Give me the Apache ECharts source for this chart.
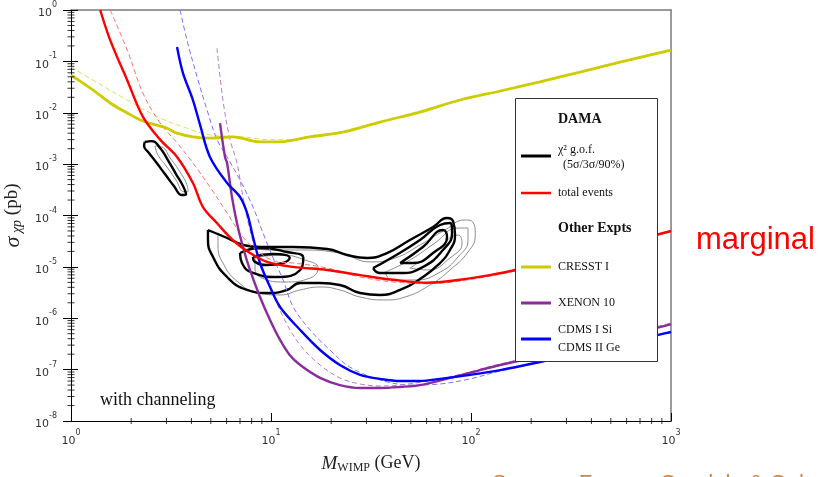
<!DOCTYPE html>
<html>
<head>
<meta charset="utf-8">
<script src="https://cdn.jsdelivr.net/npm/echarts@6/dist/echarts.min.js"></script>
<style>
  html, body { margin: 0; padding: 0; background: #fff; }
  #chart { width: 821px; height: 477px; }
</style>
</head>
<body>
<div id="chart"></div>
<script>
// WIMP mass (GeV) vs. spin-independent cross section sigma_xp (pb)

// axis ranges and minor tick steps
const massRange = [1, 1000];
const sigmaRange = [1e-8, 1];
const minorSteps = [2, 3, 4, 5, 6, 7, 8, 9];
const massDecadeStarts = [1, 10, 100];
const sigmaDecadeStarts = [1e-8, 1e-7, 1e-6, 1e-5, 1e-4, 1e-3, 1e-2, 1e-1];

// CRESST I limit (solid) and alternative (dashed)
const cresst = [[1,0.054],[1.29,0.0277],[1.57,0.0155],[1.91,0.0099],[2.29,0.0069],[2.79,0.0055],[3.02,0.0050],[3.39,0.0040],[4.07,0.0034],[4.95,0.0032],[6.46,0.0034],[8.81,0.0027],[10.7,0.0027],[15.7,0.0034],[22.9,0.0042],[35.1,0.0066],[55.6,0.0103],[88.1,0.0177],[140,0.0265],[221,0.040],[351,0.062],[556,0.097],[1000,0.166]];
const cresstDashed = [[1,0.078],[1.29,0.043],[1.91,0.0177],[2.79,0.0079],[3.80,0.0050],[4.95,0.0037],[7.24,0.0034],[9.55,0.0030],[12.4,0.0030],[15.7,0.0035],[22.9,0.0043],[35.1,0.0067],[88.1,0.0172],[221,0.039],[556,0.094],[1000,0.16]];

// DAMA total events
const totalEvents = [[1.40,1.0],[1.57,0.26],[1.91,0.043],[2.29,0.0083],[2.79,0.0030],[3.39,0.00138],[4.07,4.3e-4],[4.57,1.46e-4],[5.37,7.1e-5],[6.46,3.3e-5],[7.85,1.86e-5],[9.55,1.25e-5],[12.9,1.0e-5],[19.1,8.7e-6],[27.9,6.9e-6],[40.7,5.6e-6],[60.3,4.9e-6],[88.1,5.6e-6],[124,6.9e-6],[166,8.7e-6],[279,1.49e-5],[442,2.33e-5],[700,3.5e-5],[1000,5.0e-5]];
const totalEventsDashed = [[1.57,1.0],[1.91,0.166],[2.29,0.024],[2.79,0.0063],[3.39,0.0026],[4.07,0.00105],[4.95,3.6e-4],[6.03,1.12e-4],[7.24,3.8e-5],[8.81,1.86e-5],[10.7,1.25e-5],[12.9,1.19e-5],[19.1,9.5e-6],[27.9,6.35e-6],[40.7,5.1e-6],[60.3,4.7e-6],[88.1,5.3e-6],[166,8.3e-6],[442,2.2e-5],[1000,4.8e-5]];

// CDMS I Si + CDMS II Ge
const cdms = [[3.39,0.19],[3.63,0.059],[4.07,0.0177],[4.42,0.0058],[4.95,0.00138],[6.03,4.3e-4],[7.0,2.29e-4],[7.59,1.12e-4],[8.13,3.8e-5],[8.81,1.19e-5],[9.89,4.06e-6],[11.1,1.66e-6],[14.0,5.9e-7],[17.6,2.41e-7],[22.1,1.23e-7],[27.9,7.9e-8],[35.1,6.6e-8],[44.2,6.0e-8],[55.6,6.0e-8],[70.0,6.6e-8],[98.9,7.9e-8],[140,9.8e-8],[221,1.41e-7],[351,2.1e-7],[556,3.2e-7],[851,4.7e-7],[1000,5.4e-7]];
const cdmsDashed = [[3.51,1.0],[3.80,0.26],[4.27,0.050],[4.79,0.0113],[5.37,0.0030],[6.03,0.00138],[7.0,4.9e-4],[8.13,1.46e-4],[9.12,4.56e-5],[10.2,1.56e-5],[11.5,5.56e-6],[12.9,1.66e-6],[15.7,5.9e-7],[19.7,2.41e-7],[24.8,1.12e-7],[35.1,6.3e-8],[49.5,5.0e-8],[70.0,5.25e-8],[98.9,6.6e-8],[140,9.4e-8],[351,2.05e-7],[1000,5.3e-7]];

// XENON 10
const xenon = [[5.56,0.0063],[5.89,0.00138],[6.03,0.00105],[6.38,2.29e-4],[6.76,7.1e-5],[7.24,2.44e-5],[7.85,8.7e-6],[8.81,2.59e-6],[9.89,9.25e-7],[11.1,3.78e-7],[12.4,1.93e-7],[14.0,1.23e-7],[17.6,6.9e-8],[22.1,5.0e-8],[27.9,4.4e-8],[35.1,4.4e-8],[44.2,4.6e-8],[55.6,5.0e-8],[78.5,6.9e-8],[111,9.8e-8],[140,1.23e-7],[221,1.84e-7],[351,2.75e-7],[556,4.3e-7],[851,6.5e-7],[1000,7.7e-7]];
const xenonDashed = [[5.37,0.18],[5.75,0.0177],[6.24,0.0030],[6.76,0.00105],[7.24,2.29e-4],[7.85,5.2e-5],[8.81,1.19e-5],[9.89,4.06e-6],[11.7,9.25e-7],[14.0,3.0e-7],[17.6,1.23e-7],[22.1,6.9e-8],[27.9,5.25e-8],[35.1,4.8e-8],[44.2,5.0e-8],[78.5,7.2e-8],[140,1.29e-7],[351,2.9e-7],[1000,8.1e-7]];

// DAMA chi^2 goodness-of-fit regions (closed contours)
const damaLowIsland = [[2.34,0.0027],[2.54,0.0028],[2.79,0.00206],[3.05,0.0012],[3.35,6.4e-4],[3.63,3.75e-4],[3.76,2.6e-4],[3.59,2.5e-4],[3.27,3.75e-4],[2.95,6.4e-4],[2.66,1.1e-3],[2.43,1.72e-3],[2.32,2.25e-3],[2.34,0.0027]];
const damaOuter = [[4.84,5.22e-5],[6.03,3.65e-5],[7.24,2.67e-5],[8.81,2.44e-5],[12.9,2.44e-5],[19.1,2.23e-5],[24.0,1.70e-5],[30.2,1.49e-5],[38.0,1.86e-5],[49.5,3.34e-5],[64.6,5.97e-5],[75.9,8.94e-5],[81.3,7.8e-5],[83.2,4.17e-5],[78.5,2.13e-5],[68.4,1.09e-5],[55.6,5.81e-6],[44.2,3.55e-6],[35.1,2.84e-6],[27.9,3.10e-6],[22.1,4.44e-6],[17.6,4.86e-6],[14.0,4.86e-6],[12.0,3.55e-6],[9.55,3.10e-6],[7.59,3.55e-6],[6.03,6.35e-6],[5.13,1.56e-5],[4.84,3.34e-5],[4.84,5.22e-5]];
const damaMidLeft = [[7.0,1.86e-5],[8.81,2.33e-5],[12.0,1.95e-5],[14.5,1.49e-5],[14.0,8.7e-6],[10.7,6.35e-6],[8.13,7.6e-6],[7.16,1.19e-5],[7.0,1.86e-5]];
const damaInnerLeft = [[8.13,1.56e-5],[10.2,1.78e-5],[12.4,1.49e-5],[11.5,1.19e-5],[9.55,1.09e-5],[8.32,1.25e-5],[8.13,1.56e-5]];
const damaMidRight = [[32.4,9.5e-6],[40.7,1.56e-5],[55.6,3.34e-5],[70.0,6.53e-5],[78.5,7.14e-5],[80.4,4.56e-5],[72.4,2.13e-5],[57.5,9.95e-6],[44.2,7.6e-6],[35.1,7.6e-6],[32.4,9.5e-6]];
const damaInnerRight = [[44.2,1.19e-5],[57.5,2.44e-5],[72.4,5.22e-5],[75.9,3.82e-5],[64.6,1.86e-5],[51.3,1.19e-5],[44.2,1.19e-5]];

// companion DAMA regions (thin grey)
const damaAltLowIsland = [[2.63,2.25e-3],[2.85,2.15e-3],[3.13,1.32e-3],[3.51,7.0e-4],[3.80,3.93e-4],[3.85,2.9e-4],[3.67,2.9e-4],[3.35,4.9e-4],[2.99,9.2e-4],[2.72,1.51e-3],[2.63,2.25e-3]];
const damaAltOuter = [[5.43,4.56e-5],[7.0,2.92e-5],[9.89,2.13e-5],[14.0,2.13e-5],[22.1,1.86e-5],[31.3,1.25e-5],[41.7,1.49e-5],[55.6,2.67e-5],[74.1,5.22e-5],[93.3,8.17e-5],[102,7.5e-5],[105,4.17e-5],[96.6,1.95e-5],[78.5,8.7e-6],[62.4,4.44e-6],[46.8,2.59e-6],[37.2,2.27e-6],[27.9,2.59e-6],[22.1,3.55e-6],[17.6,4.06e-6],[14.0,3.55e-6],[11.1,2.84e-6],[8.61,3.10e-6],[6.84,5.08e-6],[5.82,1.09e-5],[5.43,2.67e-5],[5.43,4.56e-5]];
const damaAltMidLeft = [[8.32,1.49e-5],[11.1,1.70e-5],[14.8,1.36e-5],[17.2,9.5e-6],[15.7,6.07e-6],[11.7,5.08e-6],[9.02,6.07e-6],[8.32,9.5e-6],[8.32,1.49e-5]];
const damaAltMidRight = [[37.2,7.94e-6],[49.5,1.36e-5],[66.1,2.92e-5],[86.1,5.7e-5],[96.6,5.7e-5],[96.6,3.34e-5],[86.1,1.56e-5],[70.0,7.9e-6],[52.5,5.56e-6],[40.3,5.56e-6],[37.2,7.94e-6]];
const damaAltInnerRight = [[49.5,9.5e-6],[66.1,1.95e-5],[86.1,4.17e-5],[90.2,2.92e-5],[78.5,1.49e-5],[61.0,8.7e-6],[49.5,9.5e-6]];

const chart = echarts.init(document.getElementById('chart'), null, { renderer: 'canvas' });

const SERIF = '"Liberation Serif", "Times New Roman", serif';
const SANS = '"DejaVu Sans", Verdana, sans-serif';

function powerLabel(v) {
  const e = Math.round(Math.log10(v));
  return '{b|10}{s|' + e + '}';
}
const powerRich = {
  b: { fontFamily: SANS, fontSize: 11, color: '#333', lineHeight: 18, verticalAlign: 'bottom' },
  s: { fontFamily: SANS, fontSize: 8, color: '#333', lineHeight: 8, verticalAlign: 'top' }
};

function curve(data, color, width, dashed, z) {
  return {
    type: 'line', data: data, xAxisIndex: 0, yAxisIndex: 0,
    showSymbol: false, symbol: 'none', smooth: 0.35, silent: true, z: z,
    lineStyle: { color: color, width: width, type: dashed ? [5, 3] : 'solid' }
  };
}
function contour(data, color, width) {
  return {
    type: 'line', data: data, xAxisIndex: 0, yAxisIndex: 0,
    showSymbol: false, symbol: 'none', smooth: 0.5, silent: true, z: 2,
    lineStyle: { color: color, width: width }
  };
}

const minorMassTicks = massDecadeStarts.flatMap(d => minorSteps.map(k => [k * d, sigmaRange[0]]));
const minorSigmaTicks = sigmaDecadeStarts.flatMap(d => minorSteps.map(k => [massRange[0], k * d]));

const hiddenX = (pos) => ({
  type: 'log', logBase: 10, min: massRange[0], max: massRange[1], position: pos, gridIndex: 0,
  axisLine: { show: false }, axisTick: { show: false }, axisLabel: { show: false }, splitLine: { show: false }
});
const hiddenY = (pos) => ({
  type: 'log', logBase: 10, min: sigmaRange[0], max: sigmaRange[1], position: pos, gridIndex: 0, splitNumber: 8,
  axisLine: { show: false }, axisTick: { show: false }, axisLabel: { show: false }, splitLine: { show: false }
});

const xBorder = hiddenX('top');
xBorder.axisLine = { show: true, onZero: false, lineStyle: { color: '#7a7a7a', width: 1.5 } };
const yBorder = hiddenY('right');
yBorder.axisLine = { show: true, onZero: false, lineStyle: { color: '#7a7a7a', width: 1.5 } };
const yMajorIn = hiddenY('left');
yMajorIn.axisTick = { show: true, inside: true, length: 7, lineStyle: { color: '#000', width: 1 } };

const option = {
  animation: false,
  backgroundColor: '#ffffff',
  grid: { left: 71, right: 150, top: 10, bottom: 56, containLabel: false, outerBoundsMode: 'none' },
  xAxis: [
    {
      type: 'log', logBase: 10, min: massRange[0], max: massRange[1], position: 'bottom', splitNumber: 3,
      axisLine: { onZero: false, lineStyle: { color: '#000', width: 1 } },
      axisTick: { inside: true, length: 8, lineStyle: { color: '#000', width: 1 } },
      axisLabel: { margin: 8, formatter: powerLabel, rich: powerRich },
      splitLine: { show: false },
      name: '{i|M}{sub|WIMP}{n| (GeV)}', nameLocation: 'middle', nameGap: 33,
      nameTextStyle: {
        rich: {
          i: { fontFamily: SERIF, fontStyle: 'italic', fontSize: 19, color: '#222', lineHeight: 20, verticalAlign: 'top' },
          sub: { fontFamily: SERIF, fontSize: 12, color: '#222', lineHeight: 12, verticalAlign: 'bottom' },
          n: { fontFamily: SERIF, fontSize: 18, color: '#222', lineHeight: 20, verticalAlign: 'top' }
        }
      }
    },
    xBorder
  ],
  yAxis: [
    {
      type: 'log', logBase: 10, min: sigmaRange[0], max: sigmaRange[1], position: 'left', splitNumber: 8,
      axisLine: { onZero: false, lineStyle: { color: '#000', width: 1 } },
      axisTick: { inside: false, length: 8, lineStyle: { color: '#000', width: 1 } },
      axisLabel: { margin: 14, formatter: powerLabel, rich: powerRich },
      splitLine: { show: false },
      name: '{i|σ}{sub| χp}{n| (pb)}', nameLocation: 'middle', nameGap: 29, nameRotate: 90,
      nameTextStyle: {
        rich: {
          i: { fontFamily: SERIF, fontStyle: 'italic', fontSize: 22, color: '#222', lineHeight: 22, verticalAlign: 'top' },
          sub: { fontFamily: SERIF, fontStyle: 'italic', fontSize: 14, color: '#222', lineHeight: 12, verticalAlign: 'bottom' },
          n: { fontFamily: SERIF, fontSize: 19, color: '#222', lineHeight: 22, verticalAlign: 'top' }
        }
      }
    },
    yMajorIn,
    yBorder
  ],
  series: [
    // minor ticks on the logarithmic axes
    { type: 'scatter', data: minorMassTicks, symbol: 'rect', symbolSize: [1, 6], clip: false, silent: true, z: 6,
      itemStyle: { color: '#000' } },
    { type: 'scatter', data: minorSigmaTicks, symbol: 'rect', symbolSize: [7, 1], clip: false, silent: true, z: 6,
      itemStyle: { color: '#000' } },

    contour(damaAltLowIsland, '#8c8c8c', 1),
    contour(damaAltOuter, '#8c8c8c', 1),
    contour(damaAltMidLeft, '#8c8c8c', 1),
    contour(damaAltMidRight, '#8c8c8c', 1),
    contour(damaAltInnerRight, '#8c8c8c', 1),
    contour(damaLowIsland, '#000', 2.4),
    contour(damaOuter, '#000', 2.4),
    contour(damaMidLeft, '#000', 2.4),
    contour(damaInnerLeft, '#000', 2.4),
    contour(damaMidRight, '#000', 2.4),
    contour(damaInnerRight, '#000', 2.4),

    curve(cresstDashed, '#dede6a', 1, true, 3),
    curve(totalEventsDashed, '#ff7070', 1, true, 3),
    curve(cdmsDashed, '#7373ff', 1, true, 3),
    curve(xenonDashed, '#b77fc4', 1, true, 3),
    curve(cresst, '#cccc00', 2.8, false, 4),
    curve(xenon, '#8b2c9c', 2.4, false, 4),
    curve(cdms, '#0000ff', 2.4, false, 4),
    curve(totalEvents, '#ff0000', 2.4, false, 4)
  ],
  graphic: [
    { type: 'text', left: 100, top: 391, z: 50,
      style: { text: 'with channeling', font: '18px ' + SERIF, fill: '#111' } },
    { type: 'text', left: 696, top: 225, z: 50,
      style: { text: 'marginal', font: '31px "Liberation Sans", Arial, sans-serif', fill: '#ff0000' } },
    { type: 'text', left: 492, top: 473, z: 50,
      style: { text: 'Savage, Freese, Gondolo & Gelmini', font: '22px "Liberation Sans", Arial, sans-serif', fill: '#d4843c' } },

    // legend panel
    { type: 'rect', z: 100, shape: { x: 515.5, y: 98.5, width: 142, height: 263 },
      style: { fill: '#fff', stroke: '#333', lineWidth: 1 } },
    { type: 'text', z: 101, x: 558, y: 119, style: { text: 'DAMA', font: 'bold 14px ' + SERIF, fill: '#111', verticalAlign: 'middle' } },
    { type: 'line', z: 101, shape: { x1: 521, y1: 156, x2: 551, y2: 156 }, style: { stroke: '#000', lineWidth: 3 } },
    { type: 'text', z: 101, x: 558, y: 150, style: { text: 'χ² g.o.f.', font: '12px ' + SERIF, fill: '#111', verticalAlign: 'middle' } },
    { type: 'text', z: 101, x: 563, y: 165, style: { text: '(5σ/3σ/90%)', font: '12px ' + SERIF, fill: '#111', verticalAlign: 'middle' } },
    { type: 'line', z: 101, shape: { x1: 521, y1: 193, x2: 551, y2: 193 }, style: { stroke: '#ff0000', lineWidth: 2.5 } },
    { type: 'text', z: 101, x: 558, y: 193, style: { text: 'total events', font: '12px ' + SERIF, fill: '#111', verticalAlign: 'middle' } },
    { type: 'text', z: 101, x: 558, y: 228, style: { text: 'Other Expts', font: 'bold 14px ' + SERIF, fill: '#111', verticalAlign: 'middle' } },
    { type: 'line', z: 101, shape: { x1: 521, y1: 267, x2: 551, y2: 267 }, style: { stroke: '#cccc00', lineWidth: 3 } },
    { type: 'text', z: 101, x: 558, y: 267, style: { text: 'CRESST I', font: '12px ' + SERIF, fill: '#111', verticalAlign: 'middle' } },
    { type: 'line', z: 101, shape: { x1: 521, y1: 303, x2: 551, y2: 303 }, style: { stroke: '#8b2c9c', lineWidth: 3 } },
    { type: 'text', z: 101, x: 558, y: 303, style: { text: 'XENON 10', font: '12px ' + SERIF, fill: '#111', verticalAlign: 'middle' } },
    { type: 'line', z: 101, shape: { x1: 521, y1: 339, x2: 551, y2: 339 }, style: { stroke: '#0000ff', lineWidth: 3 } },
    { type: 'text', z: 101, x: 558, y: 330, style: { text: 'CDMS I Si', font: '12px ' + SERIF, fill: '#111', verticalAlign: 'middle' } },
    { type: 'text', z: 101, x: 558, y: 348, style: { text: 'CDMS II Ge', font: '12px ' + SERIF, fill: '#111', verticalAlign: 'middle' } }
  ]
};

chart.setOption(option);
</script>
</body>
</html>
